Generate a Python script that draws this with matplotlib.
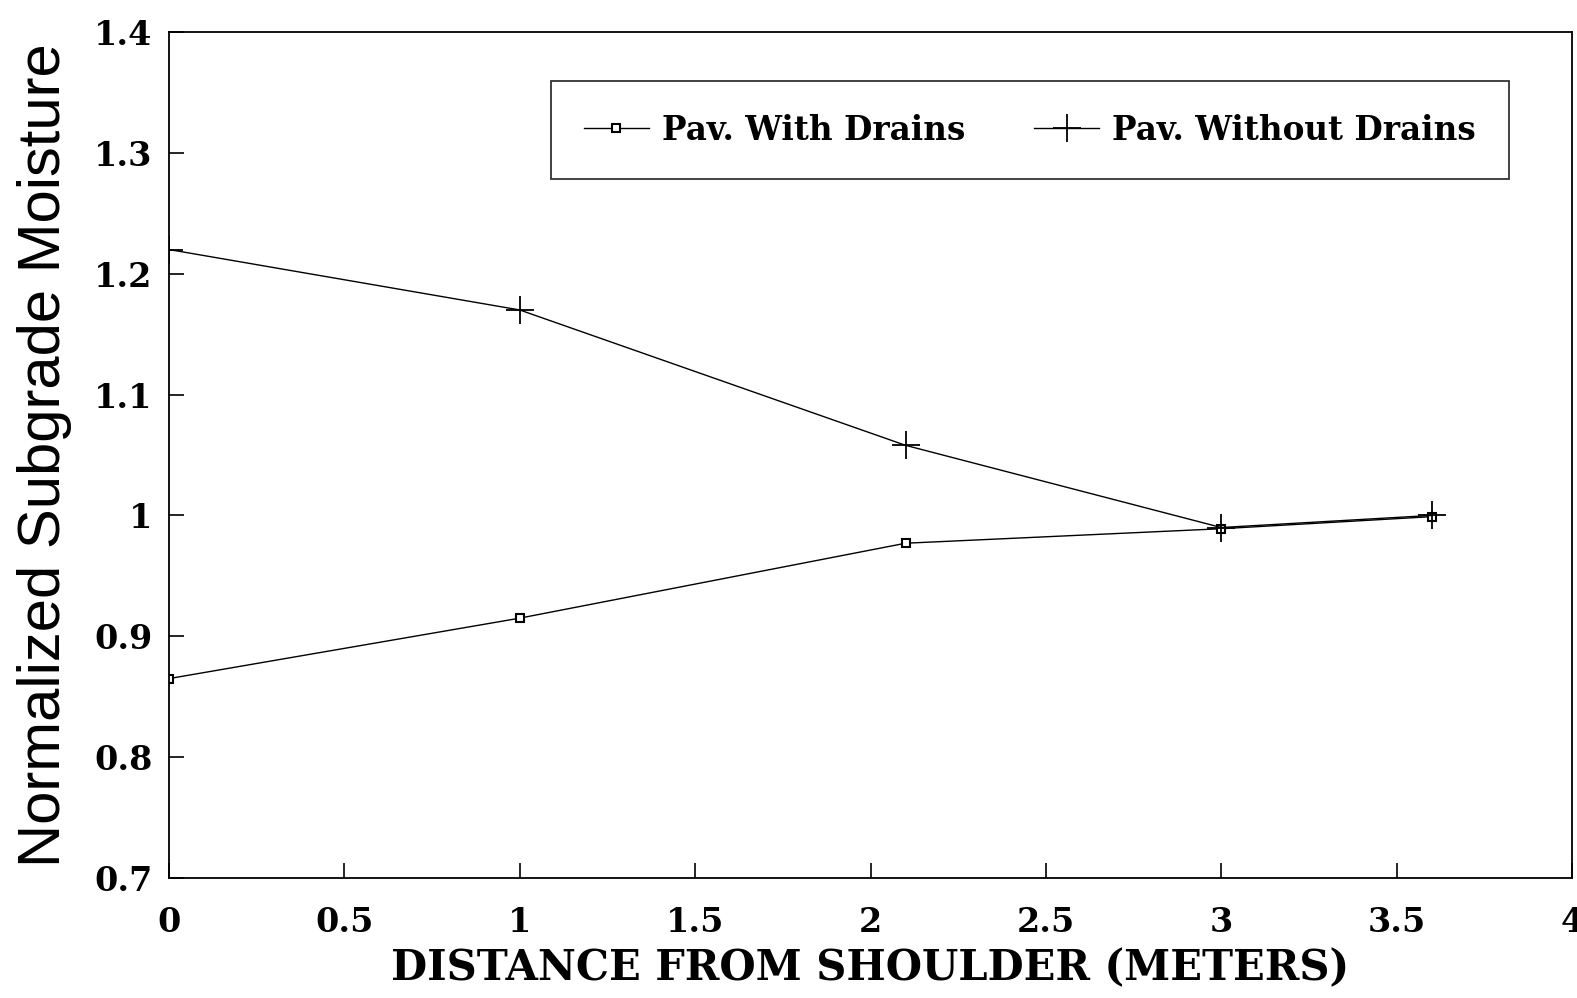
import matplotlib
matplotlib.use("Agg")
import matplotlib.pyplot as plt
from matplotlib.ticker import MultipleLocator, FuncFormatter

# Data
distance = [0, 1, 2.1, 3, 3.6]
with_drains = [0.865, 0.915, 0.977, 0.989, 0.999]
without_drains = [1.22, 1.17, 1.058, 0.99, 1.0]
series_labels = ["Pav. With Drains", "Pav. Without Drains"]
x_label = "DISTANCE FROM SHOULDER (METERS)"
y_label = "Normalized Subgrade Moisture"

W, H = 1577, 998
fig = plt.figure(figsize=(W / 100, H / 100), dpi=100)
ax = fig.add_axes([169 / W, (H - 878) / H, (1572 - 169) / W, (878 - 32) / H])

serif = "DejaVu Serif"
ax.plot(distance, with_drains, color="black", lw=1.0, marker="s", ms=6,
        mfc="white", mec="black", mew=1.5, label=series_labels[0])
ax.plot(distance, without_drains, color="black", lw=1.0, marker="+", ms=20,
        mew=1.3, label=series_labels[1])

ax.set_xlim(0, 4)
ax.set_ylim(0.7, 1.4)
ax.xaxis.set_major_locator(MultipleLocator(0.5))
ax.yaxis.set_major_locator(MultipleLocator(0.1))

def fmt(v, pos):
    s = f"{v:.1f}"
    if s.endswith(".0"):
        s = s[:-2]
    return s

ax.xaxis.set_major_formatter(FuncFormatter(fmt))
ax.yaxis.set_major_formatter(FuncFormatter(fmt))

ax.tick_params(axis="both", direction="in", length=11, width=1.2, color="black")
ax.tick_params(axis="x", pad=20)
ax.tick_params(axis="y", pad=12)
for lab in ax.get_xticklabels() + ax.get_yticklabels():
    lab.set_fontfamily(serif)
    lab.set_fontweight("bold")
    lab.set_fontsize(24)

for sp in ax.spines.values():
    sp.set_linewidth(1.3)
    sp.set_color("black")

ax.set_xlabel(x_label, fontfamily=serif, fontweight="bold", fontsize=30, labelpad=6)
ax.set_ylabel(y_label, fontfamily="Liberation Sans", fontsize=43, labelpad=16)

leg = ax.legend(loc="center", bbox_to_anchor=(1030 / W, (H - 130) / H),
                bbox_transform=fig.transFigure, ncol=2, frameon=True,
                fancybox=False, edgecolor="black", handlelength=2.0,
                columnspacing=2.1, borderpad=1.0, handletextpad=0.4,
                prop={"family": serif, "weight": "bold", "size": 23.5})
leg.get_frame().set_linewidth(1.3)

fig.savefig("out.png", dpi=100, facecolor="white")
